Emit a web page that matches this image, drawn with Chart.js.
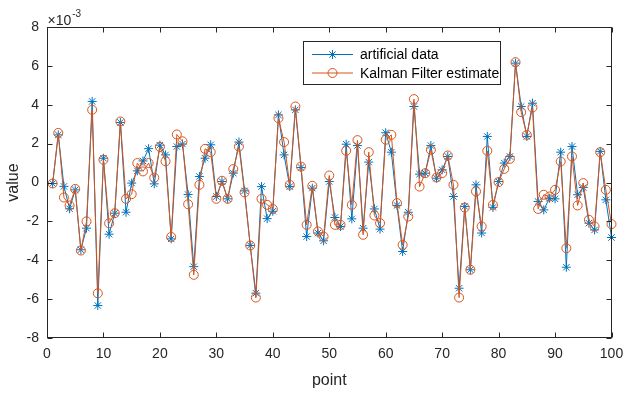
<!DOCTYPE html>
<html>
<head>
<meta charset="utf-8">
<script src="https://cdn.jsdelivr.net/npm/chart.js@4.4.1/dist/chart.umd.min.js"></script>
<style>
  html, body { margin: 0; padding: 0; background: #fff; }
  #wrap { width: 624px; height: 394px; }
</style>
</head>
<body>
<div id="wrap"><canvas id="kalmanChart" width="624" height="394"></canvas></div>
<script>
// values in units of 1e-3 (the axis carries the x10^-3 multiplier)
const artificialData = [
  -0.05, 2.45, -0.2, -1.35, -0.38, -3.46, -2.35, 4.17, -6.33, 1.25,
  -2.66, -1.58, 3.09, -1.53, -0.03, 0.6, 1.11, 1.74, -0.07, 1.92,
  1.42, -2.9, 1.85, 1.98, -0.62, -4.33, 0.31, 1.25, 1.94, -0.72,
  0.05, -0.84, 0.48, 2.08, -0.43, -3.24, -5.69, -0.21, -1.86, -1.48,
  3.48, 1.42, -0.21, 3.74, 0.77, -2.78, -0.29, -2.6, -3.0, 0.05,
  -1.8, -2.26, 1.97, -1.87, 1.9, -2.35, 1.05, -1.36, -2.4, 2.56,
  1.56, -1.18, -3.55, -1.53, 3.91, 0.43, 0.48, 1.9, 0.22, 0.65,
  1.34, -0.72, -5.44, -1.23, -4.49, -0.12, -2.6, 2.37, -1.28, 0.05,
  1.0, 1.34, 6.14, 3.91, 2.37, 4.08, -0.98, -1.41, -0.81, -0.84,
  1.56, -4.36, 1.85, -0.63, -0.26, -2.09, -2.44, 1.6, -0.89, -2.83
];
const kalmanEstimate = [
  -0.05, 2.55, -0.77, -1.18, -0.33, -3.5, -2.0, 3.74, -5.7, 1.17,
  -2.1, -1.58, 3.14, -0.84, -0.6, 1.0, 0.57, 1.0, 0.25, 1.83,
  1.09, -2.8, 2.47, 2.12, -1.12, -4.75, -0.12, 1.73, 1.56, -0.84,
  0.09, -0.84, 0.69, 1.85, -0.51, -3.24, -5.92, -0.84, -1.15, -1.36,
  3.31, 2.08, -0.12, 3.91, 0.82, -2.18, -0.17, -2.52, -2.78, 0.36,
  -2.18, -2.18, 1.63, -1.15, 2.18, -2.69, 1.56, -1.7, -2.09, 2.2,
  2.45, -1.06, -3.21, -1.75, 4.29, -0.21, 0.48, 1.68, 0.26, 0.48,
  1.39, -0.12, -5.92, -1.29, -4.49, -0.46, -2.26, 1.63, -1.15, 0.02,
  0.7, 1.22, 6.19, 3.62, 2.45, 3.86, -1.36, -0.63, -0.72, -0.38,
  1.08, -3.38, 1.34, -1.18, -0.03, -1.92, -2.26, 1.56, -0.38, -2.14
];
const pointIndex = artificialData.map((v, i) => i + 1);
const xTicks = [0, 10, 20, 30, 40, 50, 60, 70, 80, 90, 100];
const yTicks = [-8, -6, -4, -2, 0, 2, 4, 6, 8];
const seriesNames = ['artificial data', 'Kalman Filter estimate'];

const blue = '#0072BD';
const orange = '#D95319';
const axisColor = '#262626';
const fontFamily = '"Liberation Sans", Arial, Helvetica, sans-serif';

// box, inward ticks on all four sides, exponent label, legend
const matlabAxes = {
  id: 'matlabAxes',
  afterDraw(chart) {
    const ctx = chart.ctx;
    const a = chart.chartArea;
    const sx = chart.scales.x, sy = chart.scales.y;
    const L = Math.round(a.left) + 0.5, R = Math.round(a.right) - 0.5;
    const T = Math.round(a.top) + 0.5, B = Math.round(a.bottom) - 0.5;
    ctx.save();
    ctx.strokeStyle = axisColor;
    ctx.lineWidth = 1;
    ctx.strokeRect(L, T, R - L, B - T);
    ctx.beginPath();
    xTicks.forEach(v => {
      const px = Math.round(sx.getPixelForValue(v)) + 0.5;
      ctx.moveTo(px, B); ctx.lineTo(px, B - 5);
      ctx.moveTo(px, T); ctx.lineTo(px, T + 5);
    });
    yTicks.forEach(v => {
      const py = Math.round(sy.getPixelForValue(v)) + 0.5;
      ctx.moveTo(L, py); ctx.lineTo(L + 5, py);
      ctx.moveTo(R, py); ctx.lineTo(R - 5, py);
    });
    ctx.stroke();

    // x10^-3
    ctx.fillStyle = axisColor;
    ctx.textBaseline = 'alphabetic';
    ctx.textAlign = 'left';
    ctx.font = '14px ' + fontFamily;
    ctx.fillText('\u00d710', L, T - 3);
    const w = ctx.measureText('\u00d710').width;
    ctx.font = '10px ' + fontFamily;
    ctx.fillText('-3', L + w + 1, T - 11);

    // legend
    const lx = 303, ly = 41, lw = 197, lh = 43;
    ctx.fillStyle = '#fff';
    ctx.fillRect(lx, ly, lw, lh);
    ctx.strokeStyle = axisColor;
    ctx.strokeRect(lx + 0.5, ly + 0.5, lw, lh);
    chart.data.datasets.forEach((ds, i) => {
      const y = ly + 13.5 + i * 18.5;
      ctx.strokeStyle = ds.borderColor;
      ctx.lineWidth = 1;
      ctx.beginPath();
      ctx.moveTo(lx + 9, y); ctx.lineTo(lx + 50, y);
      ctx.stroke();
      ctx.fillStyle = 'rgba(0,0,0,0)';
      Chart.helpers.drawPoint(ctx, {
        pointStyle: ds.pointStyle, radius: ds.pointRadius, rotation: 0, borderWidth: 1
      }, lx + 29.5, y);
      ctx.fillStyle = '#000';
      ctx.font = '14px ' + fontFamily;
      ctx.textBaseline = 'middle';
      ctx.fillText(ds.label, lx + 57, y + 1);
    });
    ctx.restore();
  }
};

const chartEl = document.getElementById('kalmanChart');
const myChart = new Chart(chartEl, {
  type: 'line',
  data: {
    datasets: [{
      label: seriesNames[0],
      data: pointIndex.map((x, i) => ({ x: x, y: artificialData[i] })),
      borderColor: blue,
      backgroundColor: 'rgba(0,0,0,0)',
      borderWidth: 1,
      pointStyle: 'star',
      pointRadius: 4.5,
      pointBorderWidth: 1,
      pointBorderColor: blue,
      pointBackgroundColor: 'rgba(0,0,0,0)',
      tension: 0,
      clip: false,
      order: 1
    }, {
      label: seriesNames[1],
      data: pointIndex.map((x, i) => ({ x: x, y: kalmanEstimate[i] })),
      borderColor: orange,
      backgroundColor: 'rgba(0,0,0,0)',
      borderWidth: 1,
      pointStyle: 'circle',
      pointRadius: 4.5,
      pointBorderWidth: 1,
      pointBorderColor: orange,
      pointBackgroundColor: 'rgba(0,0,0,0)',
      tension: 0,
      clip: false,
      order: 0
    }]
  },
  options: {
    responsive: false,
    animation: false,
    events: [],
    layout: { padding: { top: 27, right: 12.5, left: 0, bottom: 0 } },
    plugins: {
      legend: { display: false },
      tooltip: { enabled: false }
    },
    scales: {
      x: {
        type: 'linear',
        min: xTicks[0],
        max: xTicks[xTicks.length - 1],
        afterBuildTicks: s => { s.ticks = xTicks.map(v => ({ value: v })); },
        afterFit: s => { s.height = 56; s.paddingLeft = 0; s.paddingRight = 0; },
        grid: { display: false, drawTicks: false },
        border: { display: false },
        ticks: { padding: 8, color: axisColor, font: { family: fontFamily, size: 14 }, maxRotation: 0 },
        title: { display: true, text: 'point', color: axisColor, font: { family: fontFamily, size: 16 }, padding: { bottom: 4 } }
      },
      y: {
        min: yTicks[0],
        max: yTicks[yTicks.length - 1],
        afterBuildTicks: s => { s.ticks = yTicks.map(v => ({ value: v })); },
        afterFit: s => { s.width = 47; s.paddingTop = 0; s.paddingBottom = 0; },
        grid: { display: false, drawTicks: false },
        border: { display: false },
        ticks: { padding: 8, color: axisColor, font: { family: fontFamily, size: 14 } },
        title: { display: true, text: 'value', color: axisColor, font: { family: fontFamily, size: 16 }, padding: { top: 4 } }
      }
    }
  },
  plugins: [matlabAxes]
});
</script>
</body>
</html>
